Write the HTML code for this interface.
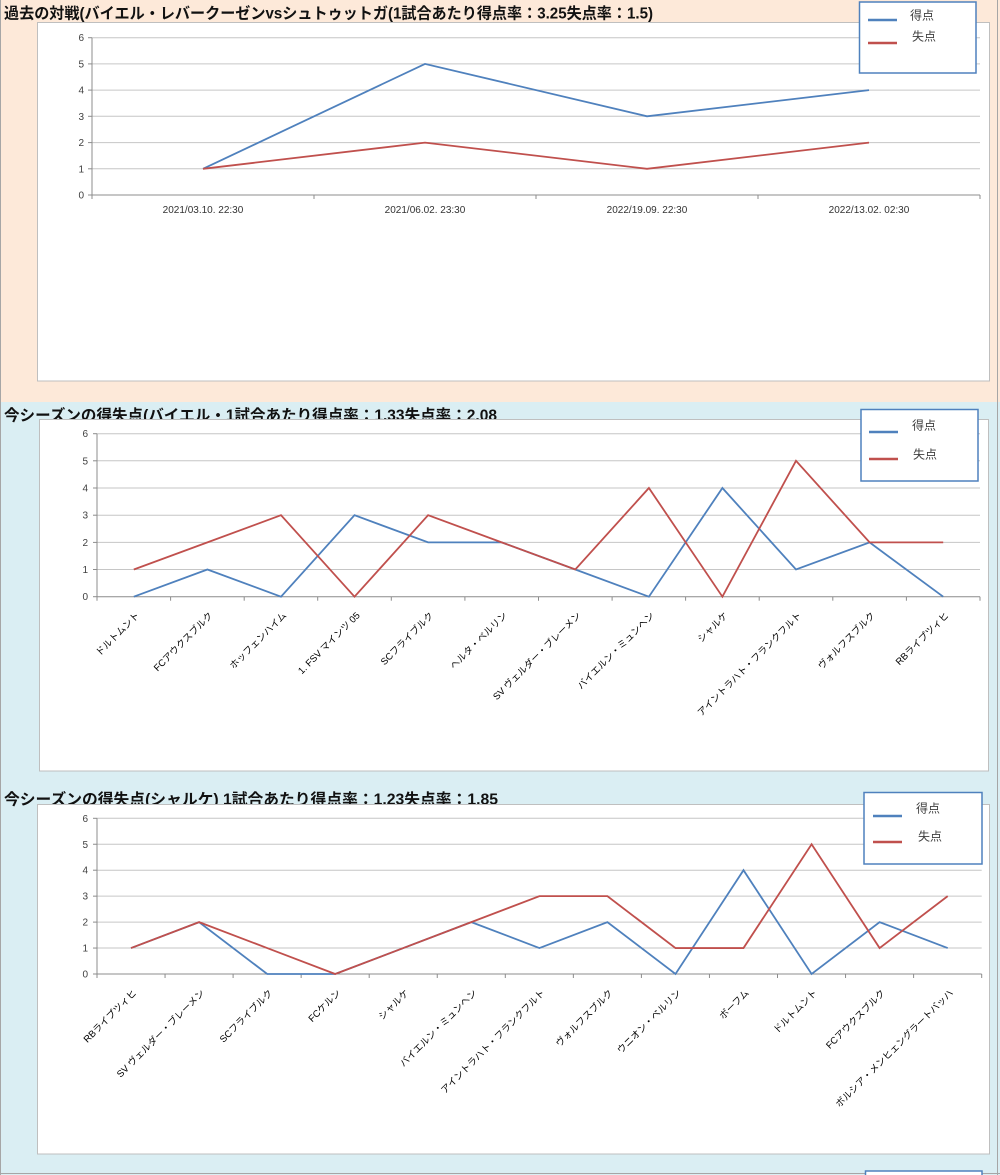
<!DOCTYPE html>
<html><head><meta charset="utf-8"><style>
html,body{margin:0;padding:0;background:#fff;}
svg{display:block;}
text{font-family:"Liberation Sans","Noto Sans CJK JP",sans-serif;}
</style></head><body>
<svg width="1000" height="1175" viewBox="0 0 1000 1175" xmlns="http://www.w3.org/2000/svg">
<!-- backgrounds -->
<rect x="0" y="0" width="1000" height="402" fill="#fde9d9"/>
<rect x="0" y="402" width="1000" height="773" fill="#daeef3"/>
<line x1="0.5" y1="0" x2="0.5" y2="1175" stroke="#a6a6a6"/>
<line x1="997.5" y1="0" x2="997.5" y2="1175" stroke="#a6a6a6"/>
<line x1="0" y1="1173.5" x2="1000" y2="1173.5" stroke="#a6a6a6"/>

<!-- ============ CHART 1 ============ -->
<text x="4" y="18.5" font-size="15.5" font-weight="bold" fill="#111" textLength="649" lengthAdjust="spacingAndGlyphs">過去の対戦(バイエル・レバークーゼンvsシュトゥットガ(1試合あたり得点率：3.25失点率：1.5)</text>
<rect x="37.5" y="22.5" width="952" height="358.5" fill="#fff" stroke="#bfbfbf"/>
<g stroke="#c6c6c6" stroke-width="1">
<line x1="92" y1="37.7" x2="980" y2="37.7"/>
<line x1="92" y1="63.9" x2="980" y2="63.9"/>
<line x1="92" y1="90.1" x2="980" y2="90.1"/>
<line x1="92" y1="116.3" x2="980" y2="116.3"/>
<line x1="92" y1="142.6" x2="980" y2="142.6"/>
<line x1="92" y1="168.8" x2="980" y2="168.8"/>
</g>
<g stroke="#8c8c8c" stroke-width="1">
<line x1="92" y1="37.7" x2="92" y2="195"/>
<line x1="92" y1="195" x2="980" y2="195"/>
<line x1="88" y1="37.7" x2="92" y2="37.7"/>
<line x1="88" y1="63.9" x2="92" y2="63.9"/>
<line x1="88" y1="90.1" x2="92" y2="90.1"/>
<line x1="88" y1="116.3" x2="92" y2="116.3"/>
<line x1="88" y1="142.6" x2="92" y2="142.6"/>
<line x1="88" y1="168.8" x2="92" y2="168.8"/>
<line x1="88" y1="195" x2="92" y2="195"/>
<line x1="92" y1="195" x2="92" y2="199"/>
<line x1="314" y1="195" x2="314" y2="199"/>
<line x1="536" y1="195" x2="536" y2="199"/>
<line x1="758" y1="195" x2="758" y2="199"/>
<line x1="980" y1="195" x2="980" y2="199"/>
</g>
<g font-size="10" fill="#404040" text-anchor="end">
<text x="84" y="41.2">6</text>
<text x="84" y="67.4">5</text>
<text x="84" y="93.6">4</text>
<text x="84" y="119.8">3</text>
<text x="84" y="146.1">2</text>
<text x="84" y="172.3">1</text>
<text x="84" y="198.5">0</text>
</g>
<g font-size="10" fill="#333" text-anchor="middle">
<text x="203" y="213">2021/03.10. 22:30</text>
<text x="425" y="213">2021/06.02. 23:30</text>
<text x="647" y="213">2022/19.09. 22:30</text>
<text x="869" y="213">2022/13.02. 02:30</text>
</g>
<polyline points="203,168.8 425,63.9 647,116.3 869,90.1" fill="none" stroke="#4f81bd" stroke-width="1.8"/>
<polyline points="203,168.8 425,142.6 647,168.8 869,142.6" fill="none" stroke="#c0504d" stroke-width="1.8"/>
<rect x="859.5" y="2" width="116.5" height="71" fill="#fff" stroke="#4f81bd" stroke-width="1.5"/>
<line x1="868" y1="20" x2="897" y2="20" stroke="#4f81bd" stroke-width="2.5"/>
<line x1="868" y1="43" x2="897" y2="43" stroke="#c0504d" stroke-width="2.5"/>
<text x="910" y="19.5" font-size="12" fill="#404040">得点</text>
<text x="912" y="40.5" font-size="12" fill="#404040">失点</text>

<!-- ============ CHART 2 ============ -->
<text x="4" y="420.5" font-size="15.5" font-weight="bold" fill="#111" textLength="493" lengthAdjust="spacingAndGlyphs">今シーズンの得失点(バイエル・1試合あたり得点率：1.33失点率：2.08</text>
<rect x="39.5" y="419.5" width="949" height="351.5" fill="#fff" stroke="#bfbfbf"/>
<g stroke="#c6c6c6" stroke-width="1">
<line x1="97" y1="433.7" x2="980" y2="433.7"/>
<line x1="97" y1="460.8" x2="980" y2="460.8"/>
<line x1="97" y1="488.0" x2="980" y2="488.0"/>
<line x1="97" y1="515.2" x2="980" y2="515.2"/>
<line x1="97" y1="542.4" x2="980" y2="542.4"/>
<line x1="97" y1="569.5" x2="980" y2="569.5"/>
</g>
<g stroke="#8c8c8c" stroke-width="1">
<line x1="97" y1="433.7" x2="97" y2="596.7"/>
<line x1="97" y1="596.7" x2="980" y2="596.7"/>
<line x1="93" y1="433.7" x2="97" y2="433.7"/>
<line x1="93" y1="460.8" x2="97" y2="460.8"/>
<line x1="93" y1="488.0" x2="97" y2="488.0"/>
<line x1="93" y1="515.2" x2="97" y2="515.2"/>
<line x1="93" y1="542.4" x2="97" y2="542.4"/>
<line x1="93" y1="569.5" x2="97" y2="569.5"/>
<line x1="93" y1="596.7" x2="97" y2="596.7"/>
<line x1="97" y1="596.7" x2="97" y2="600.7"/>
<line x1="170.6" y1="596.7" x2="170.6" y2="600.7"/>
<line x1="244.2" y1="596.7" x2="244.2" y2="600.7"/>
<line x1="317.7" y1="596.7" x2="317.7" y2="600.7"/>
<line x1="391.3" y1="596.7" x2="391.3" y2="600.7"/>
<line x1="464.9" y1="596.7" x2="464.9" y2="600.7"/>
<line x1="538.5" y1="596.7" x2="538.5" y2="600.7"/>
<line x1="612.1" y1="596.7" x2="612.1" y2="600.7"/>
<line x1="685.6" y1="596.7" x2="685.6" y2="600.7"/>
<line x1="759.2" y1="596.7" x2="759.2" y2="600.7"/>
<line x1="832.8" y1="596.7" x2="832.8" y2="600.7"/>
<line x1="906.4" y1="596.7" x2="906.4" y2="600.7"/>
<line x1="980" y1="596.7" x2="980" y2="600.7"/>
</g>
<g font-size="10" fill="#404040" text-anchor="end">
<text x="88" y="437.2">6</text>
<text x="88" y="464.3">5</text>
<text x="88" y="491.5">4</text>
<text x="88" y="518.7">3</text>
<text x="88" y="545.9">2</text>
<text x="88" y="573.0">1</text>
<text x="88" y="600.2">0</text>
</g>
<g font-size="9.5" fill="#000" text-anchor="end">
<text transform="translate(140,616) rotate(-45)">ドルトムント</text>
<text transform="translate(213.4,616) rotate(-45)">FCアウクスブルク</text>
<text transform="translate(287,616) rotate(-45)">ホッフェンハイム</text>
<text transform="translate(360.5,616) rotate(-45)">1. FSV マインツ 05</text>
<text transform="translate(434.1,616) rotate(-45)">SCフライブルク</text>
<text transform="translate(507.7,616) rotate(-45)">ヘルタ・ベルリン</text>
<text transform="translate(581.3,616) rotate(-45)">SV ヴェルダー・ブレーメン</text>
<text transform="translate(654.9,616) rotate(-45)">バイエルン・ミュンヘン</text>
<text transform="translate(728.4,616) rotate(-45)">シャルケ</text>
<text transform="translate(802,616) rotate(-45)">アイントラハト・フランクフルト</text>
<text transform="translate(875.6,616) rotate(-45)">ヴォルフスブルク</text>
<text transform="translate(949.2,616) rotate(-45)">RBライプツィヒ</text>
</g>
<polyline points="133.8,596.7 207.4,569.5 281.0,596.7 354.5,515.2 428.1,542.4 501.7,542.4 575.3,569.5 648.9,596.7 722.4,488.0 796.0,569.5 869.6,542.4 943.2,596.7" fill="none" stroke="#4f81bd" stroke-width="1.8"/>
<polyline points="133.8,569.5 207.4,542.4 281.0,515.2 354.5,596.7 428.1,515.2 501.7,542.4 575.3,569.5 648.9,488.0 722.4,596.7 796.0,460.8 869.6,542.4 943.2,542.4" fill="none" stroke="#c0504d" stroke-width="1.8"/>
<rect x="861" y="409.5" width="117" height="71.5" fill="#fff" stroke="#4f81bd" stroke-width="1.5"/>
<line x1="869" y1="432" x2="898" y2="432" stroke="#4f81bd" stroke-width="2.5"/>
<line x1="869" y1="459" x2="898" y2="459" stroke="#c0504d" stroke-width="2.5"/>
<text x="912" y="429.5" font-size="12" fill="#404040">得点</text>
<text x="913" y="458.5" font-size="12" fill="#404040">失点</text>

<!-- ============ CHART 3 ============ -->
<text x="4" y="804.5" font-size="15.5" font-weight="bold" fill="#111" textLength="494" lengthAdjust="spacingAndGlyphs">今シーズンの得失点(シャルケ) 1試合あたり得点率：1.23失点率：1.85</text>
<rect x="37.5" y="804.5" width="952" height="349.5" fill="#fff" stroke="#bfbfbf"/>
<g stroke="#c6c6c6" stroke-width="1">
<line x1="97" y1="818.3" x2="981.7" y2="818.3"/>
<line x1="97" y1="844.25" x2="981.7" y2="844.25"/>
<line x1="97" y1="870.2" x2="981.7" y2="870.2"/>
<line x1="97" y1="896.15" x2="981.7" y2="896.15"/>
<line x1="97" y1="922.1" x2="981.7" y2="922.1"/>
<line x1="97" y1="948.05" x2="981.7" y2="948.05"/>
</g>
<g stroke="#8c8c8c" stroke-width="1">
<line x1="97" y1="818.3" x2="97" y2="974"/>
<line x1="97" y1="974" x2="981.7" y2="974"/>
<line x1="93" y1="818.3" x2="97" y2="818.3"/>
<line x1="93" y1="844.25" x2="97" y2="844.25"/>
<line x1="93" y1="870.2" x2="97" y2="870.2"/>
<line x1="93" y1="896.15" x2="97" y2="896.15"/>
<line x1="93" y1="922.1" x2="97" y2="922.1"/>
<line x1="93" y1="948.05" x2="97" y2="948.05"/>
<line x1="93" y1="974" x2="97" y2="974"/>
<line x1="97" y1="974" x2="97" y2="978"/>
<line x1="165.05" y1="974" x2="165.05" y2="978"/>
<line x1="233.1" y1="974" x2="233.1" y2="978"/>
<line x1="301.15" y1="974" x2="301.15" y2="978"/>
<line x1="369.2" y1="974" x2="369.2" y2="978"/>
<line x1="437.25" y1="974" x2="437.25" y2="978"/>
<line x1="505.3" y1="974" x2="505.3" y2="978"/>
<line x1="573.35" y1="974" x2="573.35" y2="978"/>
<line x1="641.4" y1="974" x2="641.4" y2="978"/>
<line x1="709.45" y1="974" x2="709.45" y2="978"/>
<line x1="777.5" y1="974" x2="777.5" y2="978"/>
<line x1="845.55" y1="974" x2="845.55" y2="978"/>
<line x1="913.6" y1="974" x2="913.6" y2="978"/>
<line x1="981.7" y1="974" x2="981.7" y2="978"/>
</g>
<g font-size="10" fill="#404040" text-anchor="end">
<text x="88" y="821.8">6</text>
<text x="88" y="847.75">5</text>
<text x="88" y="873.7">4</text>
<text x="88" y="899.65">3</text>
<text x="88" y="925.6">2</text>
<text x="88" y="951.55">1</text>
<text x="88" y="977.5">0</text>
</g>
<g font-size="9.5" fill="#000" text-anchor="end">
<text transform="translate(137,993.5) rotate(-45)">RBライプツィヒ</text>
<text transform="translate(205.1,993.5) rotate(-45)">SV ヴェルダー・ブレーメン</text>
<text transform="translate(273.2,993.5) rotate(-45)">SCフライブルク</text>
<text transform="translate(341.2,993.5) rotate(-45)">FCケルン</text>
<text transform="translate(409.3,993.5) rotate(-45)">シャルケ</text>
<text transform="translate(477.3,993.5) rotate(-45)">バイエルン・ミュンヘン</text>
<text transform="translate(545.4,993.5) rotate(-45)">アイントラハト・フランクフルト</text>
<text transform="translate(613.4,993.5) rotate(-45)">ヴォルフスブルク</text>
<text transform="translate(681.5,993.5) rotate(-45)">ウニオン・ベルリン</text>
<text transform="translate(749.5,993.5) rotate(-45)">ボーフム</text>
<text transform="translate(817.6,993.5) rotate(-45)">ドルトムント</text>
<text transform="translate(885.6,993.5) rotate(-45)">FCアウクスブルク</text>
<text transform="translate(953.7,993.5) rotate(-45)">ボルシア・メンヒェングラートバッハ</text>
</g>
<polyline points="131.0,948.05 199.1,922.1 267.2,974 335.2,974 403.3,948.05 471.3,922.1 539.4,948.05 607.4,922.1 675.5,974 743.5,870.2 811.6,974 879.6,922.1 947.7,948.05" fill="none" stroke="#4f81bd" stroke-width="1.8"/>
<polyline points="131.0,948.05 199.1,922.1 267.2,948.05 335.2,974 403.3,948.05 471.3,922.1 539.4,896.15 607.4,896.15 675.5,948.05 743.5,948.05 811.6,844.25 879.6,948.05 947.7,896.15" fill="none" stroke="#c0504d" stroke-width="1.8"/>
<rect x="864" y="792.5" width="118" height="71.5" fill="#fff" stroke="#4f81bd" stroke-width="1.5"/>
<line x1="873" y1="816" x2="902" y2="816" stroke="#4f81bd" stroke-width="2.5"/>
<line x1="873" y1="842" x2="902" y2="842" stroke="#c0504d" stroke-width="2.5"/>
<text x="916" y="812.5" font-size="12" fill="#404040">得点</text>
<text x="918" y="840.5" font-size="12" fill="#404040">失点</text>

<!-- partial legend at bottom -->
<rect x="865.5" y="1171" width="116.5" height="10" fill="#fff" stroke="#4f81bd" stroke-width="1.5"/>
</svg>
</body></html>
